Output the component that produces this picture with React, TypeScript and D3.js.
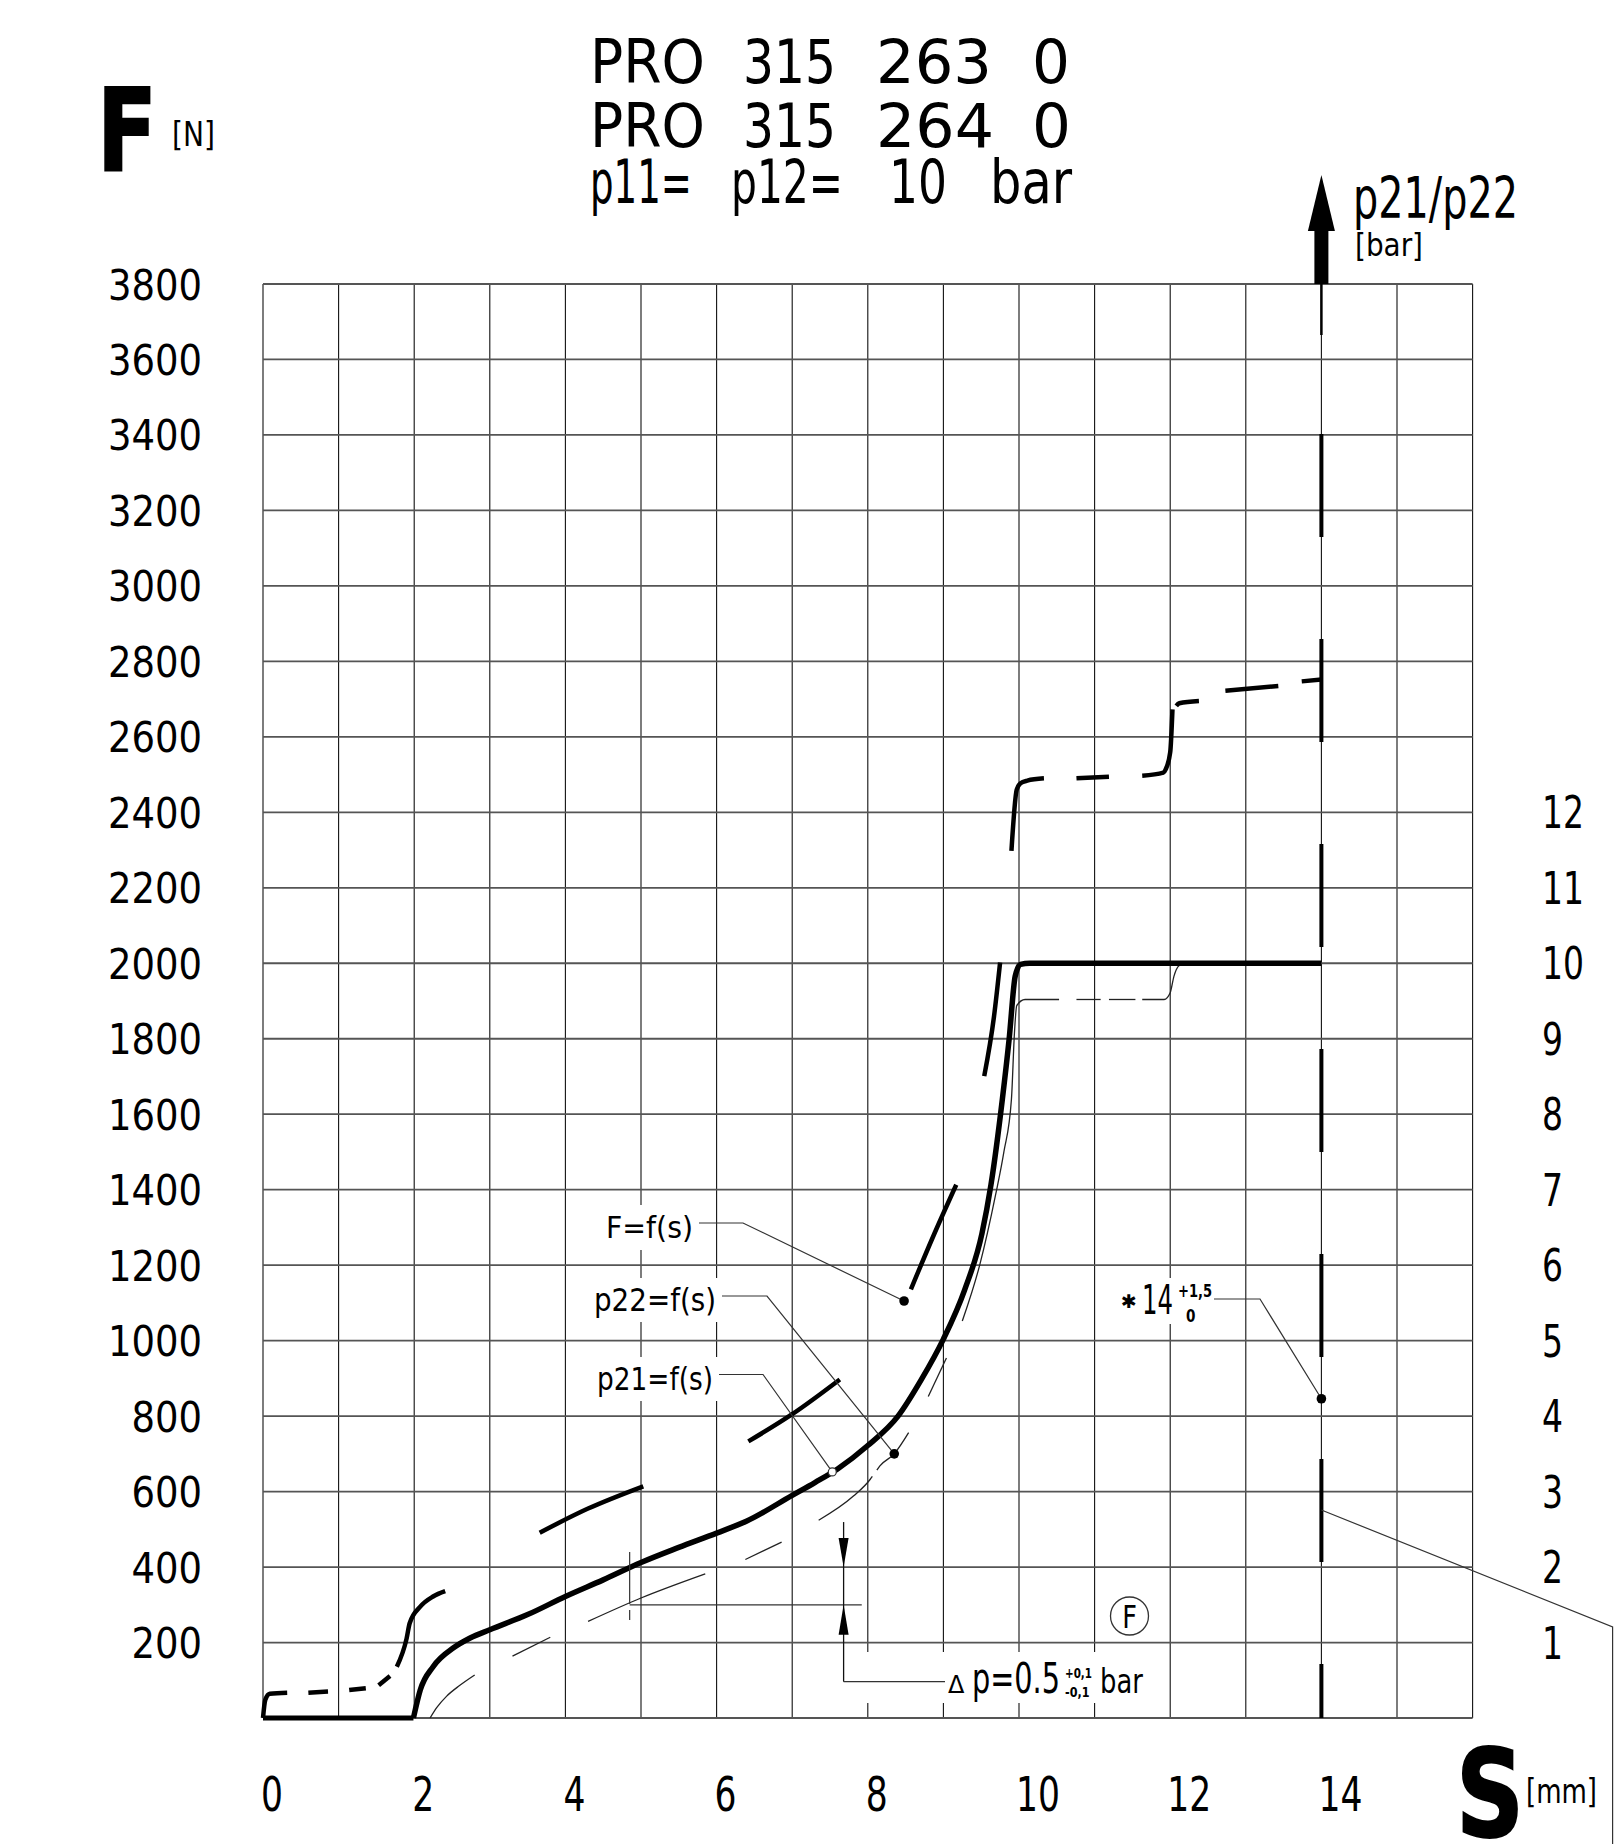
import React from 'react';
import * as d3 from 'd3';

type Pt = [number, number];

// axis ticks
const sTicks = [0, 2, 4, 6, 8, 10, 12, 14];
const forceTicks = [200, 400, 600, 800, 1000, 1200, 1400, 1600, 1800, 2000, 2200, 2400, 2600, 2800, 3000, 3200, 3400, 3600, 3800];
const barTicks = [1, 2, 3, 4, 5, 6, 7, 8, 9, 10, 11, 12];

const titleLines = [
  ['PRO', '315', '263', '0'],
  ['PRO', '315', '264', '0'],
  ['p11=', 'p12=', '10', 'bar'],
];

// F = f(s) in N (thick long-dash curve)
const forceCurve: Pt[] = [
  [0, 0], [0.03, 48], [0.09, 64], [0.32, 67], [0.6, 67], [0.86, 70], [1.14, 74], [1.36, 79],
  [1.53, 87], [1.68, 111], [1.77, 136], [1.9, 211], [1.94, 251], [2.08, 295], [2.25, 322],
  [2.41, 336], [3.0, 420], [3.66, 491], [4.3, 555], [5.03, 614], [5.75, 672], [6.42, 733],
  [7.0, 805], [7.63, 897], [8.1, 1000], [8.57, 1136], [8.86, 1274], [9.17, 1413], [9.35, 1540],
  [9.54, 1701], [9.67, 1860], [9.75, 2002], [9.83, 2150], [9.9, 2298], [9.97, 2460],
  [10.02, 2477], [10.11, 2484], [10.33, 2490], [10.76, 2490], [11.19, 2494], [11.63, 2497],
  [11.91, 2505], [11.94, 2514], [12.0, 2559], [12.03, 2673], [12.12, 2689], [12.38, 2695],
  [12.73, 2722], [13.43, 2735], [13.74, 2747], [14, 2752],
];

// p21 = f(s) in bar (thick solid)
const p21Curve: Pt[] = [
  [0, 0], [1.99, 0], [2.08, 0.37], [2.25, 0.68], [2.52, 0.93], [2.74, 1.06], [3.0, 1.17],
  [3.5, 1.37], [4.0, 1.61], [4.5, 1.83], [5.0, 2.06], [5.5, 2.26], [6.0, 2.45], [6.4, 2.61],
  [7.0, 2.95], [7.3, 3.12], [7.6, 3.3], [8.0, 3.61], [8.4, 4.0], [8.7, 4.47],
  [9.0, 5.02], [9.28, 5.67], [9.51, 6.42], [9.63, 7.07], [9.78, 8.2], [9.87, 9.0],
  [9.95, 9.83], [10.02, 9.985], [10.14, 10.0], [14, 10.0],
];

// p22 = f(s) in bar (thin)
const p22Curve: Pt[] = [
  [2.21, 0], [2.3, 0.14], [2.43, 0.29], [2.6, 0.43], [2.8, 0.57], [3.3, 0.82], [3.8, 1.07],
  [4.3, 1.28], [5.0, 1.59], [5.85, 1.91], [6.38, 2.1], [6.86, 2.33], [7.35, 2.62], [7.81, 2.94],
  [8.03, 3.16], [8.16, 3.34], [8.35, 3.5], [8.54, 3.78], [8.8, 4.26], [9.04, 4.77], [9.25, 5.26],
  [9.48, 6.0], [9.69, 6.93], [9.8, 7.5], [9.9, 8.2], [9.94, 9.08], [9.97, 9.44], [10.08, 9.52],
  [11.0, 9.52], [11.92, 9.52], [12.0, 9.61], [12.05, 9.83], [12.12, 9.97], [12.2, 10.0],
];

// visible stretches of the drawn dash patterns (in s)
const forceVisible: Pt[] = [
  [0, 0.32], [0.6, 0.86], [1.14, 1.36], [1.53, 1.68], [1.77, 2.41], [3.66, 5.03], [6.42, 7.63],
  [8.57, 9.17], [9.54, 9.75], [9.9, 10.33], [10.76, 11.19], [11.63, 12.03], [12.08, 12.38],
  [12.73, 13.43], [13.74, 14],
];
const p22Visible: Pt[] = [
  [2.21, 2.8], [3.3, 3.8], [4.3, 5.85], [6.38, 6.86], [7.35, 8.06], [8.12, 8.54], [8.8, 9.04],
  [9.25, 10.53], [10.76, 11.08], [11.19, 11.54], [11.63, 12.2],
];

// leader anchors on the curves
const anchorF = { s: 8.48, f: 1105 };
const anchorP22 = { s: 8.35, bar: 3.5 };
const anchorP21 = { s: 7.53, bar: 3.26 };
const anchorStroke = { s: 14, f: 846 };
const strokeMark = 14;
const dpTop = 2; // bar
const dpBottom = 1.5; // bar

const W = 1618;
const H = 1844;

const xScale = d3.scaleLinear().domain([0, 16]).range([263, 1472.6]);
const fScale = d3.scaleLinear().domain([0, 3800]).range([1718, 284]);
const barScale = d3.scaleLinear().domain([0, 19]).range([1718, 284]);

function valueAt(data: Pt[], s: number) {
  if (s <= data[0][0]) return data[0][1];
  for (let i = 1; i < data.length; i++) {
    const [x0, y0] = data[i - 1];
    const [x1, y1] = data[i];
    if (s <= x1) return x1 === x0 ? y1 : y0 + ((y1 - y0) * (s - x0)) / (x1 - x0);
  }
  return data[data.length - 1][1];
}

// piece of a curve between two s values
function cut(data: Pt[], a: number, b: number): Pt[] {
  const pts: Pt[] = [[a, valueAt(data, a)]];
  data.forEach((d) => {
    if (d[0] > a && d[0] < b) pts.push(d);
  });
  pts.push([b, valueAt(data, b)]);
  return pts;
}

const lineF = d3.line<Pt>().x((d) => xScale(d[0])).y((d) => fScale(d[1])).curve(d3.curveMonotoneX);
const lineBar = d3.line<Pt>().x((d) => xScale(d[0])).y((d) => barScale(d[1])).curve(d3.curveMonotoneX);
const lineBarStraight = d3.line<Pt>().x((d) => xScale(d[0])).y((d) => barScale(d[1]));

const Txt = ({ x, y, size, len, anchor = 'start', weight = 'normal', children }: any) => (
  <text
    x={x}
    y={y}
    fontSize={size}
    textLength={len}
    lengthAdjust={len ? 'spacingAndGlyphs' : undefined}
    textAnchor={anchor}
    fontWeight={weight}
  >
    {children}
  </text>
);

// horizontally squeezed text (the drawing uses a narrow CAD font)
const Sq = ({ x, y, size, sx = 0.8, anchor = 'start', weight = 'normal', children }: any) => (
  <text transform={`translate(${x},${y}) scale(${sx},1)`} fontSize={size} textAnchor={anchor} fontWeight={weight}>
    {children}
  </text>
);

const titleRows = [
  { y: 83, cols: [[590, 115], [743, 93], [876, 116], [1032, 38]] },
  { y: 147, cols: [[590, 115], [743, 93], [876, 118], [1032, 39]] },
  { y: 203, cols: [[590, 102], [731, 112], [889, 58], [990, 82]] },
];

export default function App() {
  const xl = xScale(0);
  const xr = xScale(16);
  const yb = fScale(0);
  const yt = fScale(3800);
  const xStroke = xScale(strokeMark);

  const thin = { stroke: '#333', strokeWidth: 1.2, fill: 'none' };

  const aF = [xScale(anchorF.s), fScale(anchorF.f)];
  const a22 = [xScale(anchorP22.s), barScale(anchorP22.bar)];
  const a21 = [xScale(anchorP21.s), barScale(anchorP21.bar)];
  const aSt = [xScale(anchorStroke.s), fScale(anchorStroke.f)];

  const dpX = xScale(7.68);
  const dpTopY = barScale(dpTop);
  const dpBotY = barScale(dpBottom);

  return (
    <svg
      width={W}
      height={H}
      viewBox={`0 0 ${W} ${H}`}
      style={{ position: 'absolute', left: 0, top: 0, display: 'block', background: '#fff' }}
      fontFamily="'DejaVu Sans', sans-serif"
    >
      <rect x={0} y={0} width={W} height={H} fill="#fff" />

      {/* grid */}
      <g>
        {d3.range(0, 17).map((s) => (
          <line key={'v' + s} x1={xScale(s)} x2={xScale(s)} y1={yb} y2={yt} stroke="#111" strokeWidth={1.1} />
        ))}
        {d3.range(0, 3801, 200).map((f) => (
          <line key={'h' + f} x1={xl} x2={xr} y1={fScale(f)} y2={fScale(f)} stroke="#555" strokeWidth={1.8} />
        ))}
      </g>

      {/* text backgrounds breaking the grid */}
      <g fill="#fff">
        <rect x={600} y={1205} width={100} height={45} />
        <rect x={588} y={1278} width={134} height={44} />
        <rect x={591} y={1357} width={128} height={44} />
        <rect x={1118} y={1278} width={100} height={46} />
        <rect x={855} y={1652} width={295} height={51} />
      </g>

      {/* stroke mark at s = 14 */}
      <path
        d={`M${xStroke},${yb}L${xStroke},335`}
        stroke="#000"
        strokeWidth={4}
        strokeDasharray="103 102"
        strokeDashoffset={49}
        fill="none"
      />
      <line x1={xStroke} x2={xStroke} y1={335} y2={yt} stroke="#000" strokeWidth={2.5} />
      <rect x={xStroke - 7} y={228} width={14} height={yt - 228} fill="#000" />
      <path d={`M${xStroke},175L${xStroke + 13.5},231L${xStroke - 13.5},231Z`} fill="#000" />

      {/* p22 thin */}
      <g stroke="#222" strokeWidth={1.3} fill="none">
        {p22Visible.map(([a, b], i) => (
          <path key={i} d={lineBar(cut(p22Curve, a, b)) || ''} />
        ))}
      </g>

      {/* p21 thick solid */}
      <path d={lineBarStraight(p21Curve.slice(0, 2)) || ''} stroke="#000" strokeWidth={5} fill="none" />
      <path d={lineBar(p21Curve.slice(1)) || ''} stroke="#000" strokeWidth={5.5} fill="none" />

      {/* F = f(s) thick long dash */}
      <g stroke="#000" strokeWidth={4.5} fill="none">
        {forceVisible.map(([a, b], i) => (
          <path key={i} d={lineF(cut(forceCurve, a, b)) || ''} />
        ))}
      </g>

      {/* leaders */}
      <path d={`M699,1223L743,1223L${aF[0]},${aF[1]}`} {...thin} />
      <circle cx={aF[0]} cy={aF[1]} r={4.8} fill="#000" />
      <path d={`M722,1296L767,1296L${a22[0]},${a22[1]}`} {...thin} />
      <circle cx={a22[0]} cy={a22[1]} r={4.8} fill="#000" />
      <path d={`M719,1374.5L763,1374.5L${a21[0]},${a21[1]}`} {...thin} />
      <circle cx={a21[0]} cy={a21[1]} r={4} fill="#fff" stroke="#333" strokeWidth={1.2} />
      <path d={`M1214,1299L1260,1299L${aSt[0]},${aSt[1]}`} {...thin} />
      <circle cx={aSt[0]} cy={aSt[1]} r={4.8} fill="#000" />
      <path d={`M${xStroke},1510L1612.6,1627L1612.6,${H}`} {...thin} />

      {/* delta p dimension */}
      <line x1={xScale(4.85)} x2={xScale(4.85)} y1={fScale(440)} y2={fScale(260)} stroke="#333" strokeWidth={1.2} strokeDasharray="52 6" />
      <line x1={xScale(4.85)} x2={xScale(7.92)} y1={dpBotY} y2={dpBotY} {...thin} />
      <line x1={dpX} x2={dpX} y1={dpTopY - 45} y2={1681.7} stroke="#111" strokeWidth={1.3} />
      <path d={`M${dpX - 5},${dpTopY - 29}L${dpX + 5},${dpTopY - 29}L${dpX},${dpTopY}Z`} fill="#000" />
      <path d={`M${dpX - 5},${dpBotY + 30}L${dpX + 5},${dpBotY + 30}L${dpX},${dpBotY}Z`} fill="#000" />
      <path d={`M${dpX},1681.7L945,1681.7`} {...thin} />

      {/* circled F */}
      <circle cx={1129.5} cy={1616} r={19} fill="none" stroke="#333" strokeWidth={1.3} />

      <g fill="#000">
        <Sq x={1129.5} y={1628} size={32} sx={0.8} anchor="middle">F</Sq>

        {/* title */}
        {titleRows.map((row, i) =>
          row.cols.map(([x, w], j) => (
            <Txt key={`${i}-${j}`} x={x} y={row.y} size={60} len={w}>
              {titleLines[i][j]}
            </Txt>
          ))
        )}

        {/* axis titles */}
        <text x={97} y={170} fontSize={114} fontWeight="bold" textLength={60} lengthAdjust="spacingAndGlyphs" stroke="#000" strokeWidth={2}>F</text>
        <Txt x={172} y={146} size={34} len={43}>[N]</Txt>
        <text x={1456} y={1836} fontSize={121} fontWeight="bold" textLength={68} lengthAdjust="spacingAndGlyphs" stroke="#000" strokeWidth={2}>S</text>
        <Txt x={1526} y={1803} size={34} len={71}>[mm]</Txt>
        <Txt x={1353} y={218} size={57} len={165}>p21/p22</Txt>
        <Txt x={1355} y={256} size={32} len={68}>[bar]</Txt>

        {/* axis labels */}
        {forceTicks.map((f) => (
          <Sq key={'fl' + f} x={202} y={fScale(f) + 15.5} size={42} sx={0.88} anchor="end">
            {f}
          </Sq>
        ))}
        {barTicks.map((b) => (
          <Sq key={'bl' + b} x={1542} y={barScale(b) + 16} size={44} sx={0.75}>
            {b}
          </Sq>
        ))}
        {sTicks.map((s) => (
          <Sq key={'sl' + s} x={xScale(s) + (String(s).length === 1 ? 9 : 19)} y={1811} size={48} sx={0.72} anchor="middle">
            {s}
          </Sq>
        ))}

        {/* curve labels */}
        <Txt x={606} y={1238} size={31} len={87}>F=f(s)</Txt>
        <Txt x={594} y={1311} size={32} len={122}>p22=f(s)</Txt>
        <Txt x={597} y={1390} size={32} len={116}>p21=f(s)</Txt>

        {/* stroke tolerance */}
        <text x={1121} y={1308} fontSize={19}>✱</text>
        <Sq x={1142} y={1313.5} size={40} sx={0.61}>14</Sq>
        <Sq x={1178} y={1297} size={17} sx={0.77} weight="bold">+1,5</Sq>
        <Sq x={1186} y={1322} size={17} sx={0.8} weight="bold">0</Sq>

        {/* delta p */}
        <Txt x={948} y={1693} size={24}>Δ</Txt>
        <Sq x={972} y={1693} size={42} sx={0.684}>p=0.5</Sq>
        <Sq x={1065} y={1678} size={14} sx={0.74} weight="bold">+0,1</Sq>
        <Sq x={1065} y={1697} size={14} sx={0.8} weight="bold">-0,1</Sq>
        <Sq x={1100} y={1693} size={34} sx={0.76}>bar</Sq>
      </g>
    </svg>
  );
}
